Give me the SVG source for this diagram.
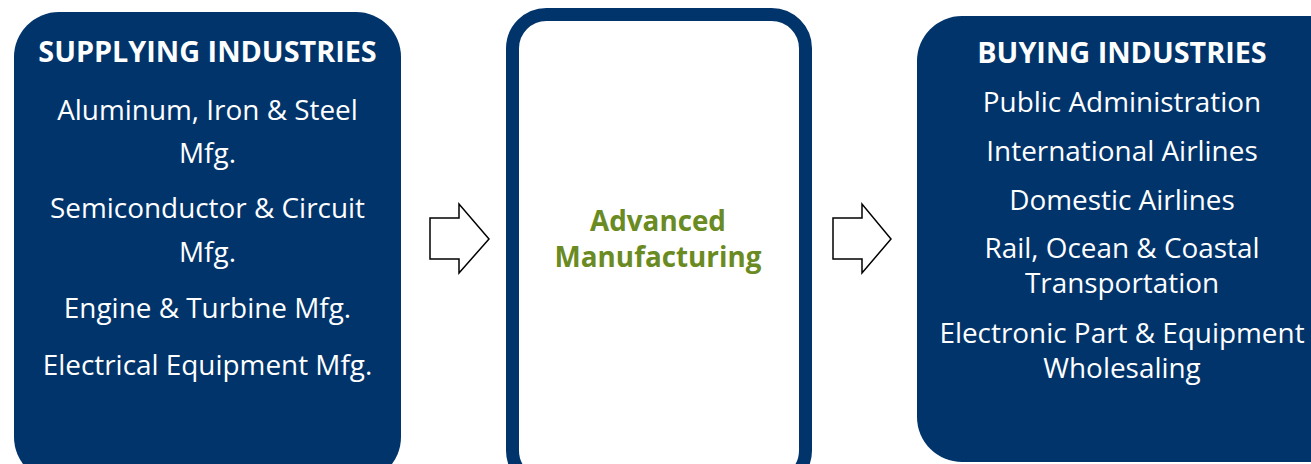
<svg xmlns="http://www.w3.org/2000/svg" width="1311" height="464" viewBox="0 0 1311 464">
<style>
.box{fill:#00346b}
.t{font-family:"Open Sans","Noto Sans",sans-serif;fill:#ffffff;text-anchor:middle}
.h{font-weight:bold;font-size:28.8px}
.b{font-size:27.9px}
.c{font-family:"Open Sans","Noto Sans",sans-serif;fill:#6a8a22;font-weight:bold;font-size:27.8px;text-anchor:middle}
.arrow{fill:#ffffff;stroke:#000000;stroke-width:1.5;stroke-linejoin:miter}
</style>
<g id="supplying">
<rect class="box" x="14" y="12" width="387" height="470" rx="45" ry="45"/>
<text class="t h" x="207.5" y="62">SUPPLYING INDUSTRIES</text>
<text class="t b" x="207.5" y="120">Aluminum, Iron &amp; Steel</text>
<text class="t b" x="207.5" y="163">Mfg.</text>
<text class="t b" x="207.5" y="218">Semiconductor &amp; Circuit</text>
<text class="t b" x="207.5" y="262">Mfg.</text>
<text class="t b" x="207.5" y="318">Engine &amp; Turbine Mfg.</text>
<text class="t b" x="207.5" y="375">Electrical Equipment Mfg.</text>
</g>
<g id="advanced">
<rect x="512.5" y="14.5" width="293" height="470" rx="34" ry="34" fill="#ffffff" stroke="#00346b" stroke-width="13"/>
<text class="c" x="658" y="231">Advanced</text>
<text class="c" x="658" y="267">Manufacturing</text>
</g>
<g id="buying">
<rect class="box" x="917" y="16" width="440" height="446" rx="45" ry="45"/>
<text class="t h" x="1122" y="63">BUYING INDUSTRIES</text>
<text class="t b" x="1122" y="112">Public Administration</text>
<text class="t b" x="1122" y="161">International Airlines</text>
<text class="t b" x="1122" y="210">Domestic Airlines</text>
<text class="t b" x="1122" y="258">Rail, Ocean &amp; Coastal</text>
<text class="t b" x="1122" y="293">Transportation</text>
<text class="t b" x="1122" y="343">Electronic Part &amp; Equipment</text>
<text class="t b" x="1122" y="378">Wholesaling</text>
</g>
<g id="connectors">
<polygon class="arrow" points="430,218 459,218 459,204 489,239 459,273 459,259 430,259"/>
<polygon class="arrow" points="833,218 862,218 862,204 891,239 862,273 862,259 833,259"/>
</g>
</svg>
